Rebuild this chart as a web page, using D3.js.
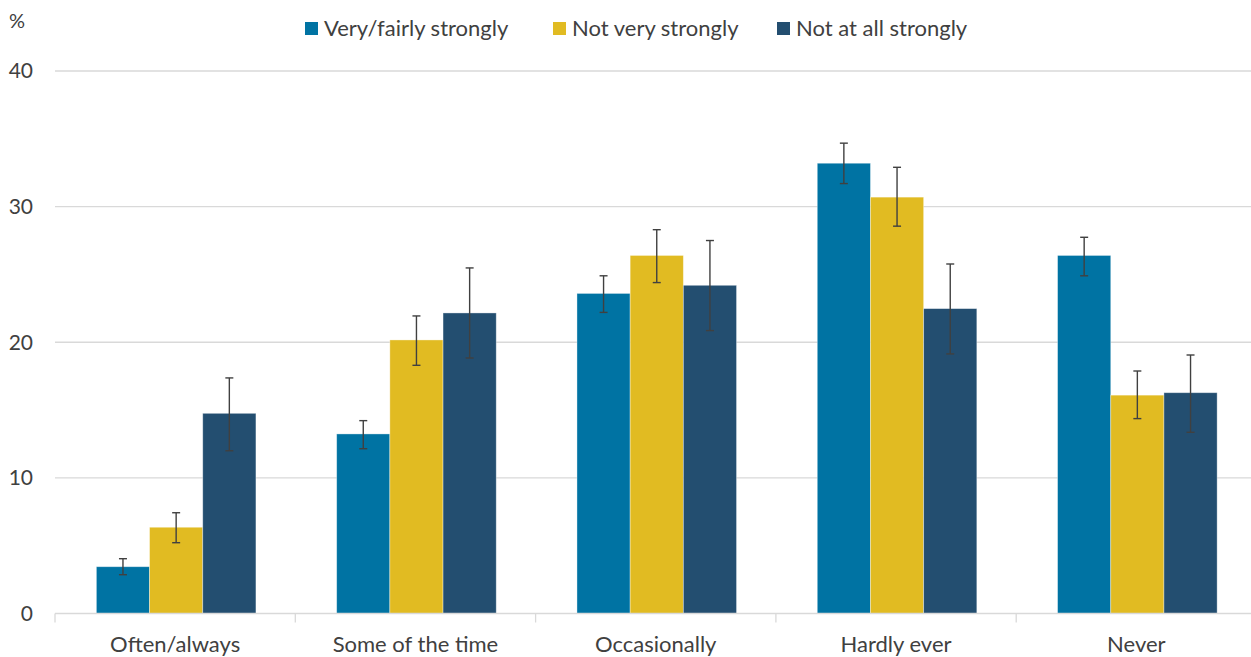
<!DOCTYPE html>
<html><head><meta charset="utf-8">
<script src="https://cdn.jsdelivr.net/npm/d3@7"></script>
<style>body{margin:0;background:#fff}svg{display:block}text{font-family:Lato,"Open Sans",sans-serif}</style>
</head><body><svg id="c" width="1251" height="657"></svg>
<script>
const categories = ["Often/always","Some of the time","Occasionally","Hardly ever","Never"];
const seriesNames = ["Very/fairly strongly","Not very strongly","Not at all strongly"];
const seriesColors = ["#0073A3","#E1BB22","#234E70"];
const valVery = [3.45, 13.24, 23.6, 33.2, 26.4];
const valNotVery = [6.36, 20.17, 26.4, 30.7, 16.1];
const valNotAll = [14.76, 22.16, 24.2, 22.48, 16.28];
const lowVery = [2.86, 12.15, 22.2, 31.7, 24.9];
const highVery = [4.04, 14.22, 24.9, 34.68, 27.74];
const lowNotVery = [5.22, 18.3, 24.4, 28.56, 14.37];
const highNotVery = [7.43, 21.94, 28.3, 32.9, 17.88];
const lowNotAll = [12.0, 18.84, 20.86, 19.14, 13.36];
const highNotAll = [17.37, 25.48, 27.5, 25.77, 19.06];
const yTicks = [0, 10, 20, 30, 40];

const values = [valVery, valNotVery, valNotAll];
const lows = [lowVery, lowNotVery, lowNotAll];
const highs = [highVery, highNotVery, highNotAll];

const svg = d3.select("#c");
const x0 = d3.scaleBand().domain(categories).range([55, 1256.5]).paddingInner(0).paddingOuter(0);
const groupFrac = 0.664;
const x1 = d3.scaleBand().domain(d3.range(3)).range([0, x0.bandwidth()*groupFrac]).padding(0);
const groupOffset = x0.bandwidth()*(1-groupFrac)/2 + 1;
const y = d3.scaleLinear().domain([0, 40]).range([613.5, 71]);

// gridlines
svg.append("g").selectAll("line").data(yTicks.filter(t=>t>0)).join("line")
  .attr("x1", 55).attr("x2", 1251)
  .attr("y1", d=>y(d)).attr("y2", d=>y(d))
  .attr("stroke", "#d9d9d9").attr("stroke-width", 1.3);

// y tick labels
svg.append("g").selectAll("text").data(yTicks).join("text")
  .attr("x", 33).attr("y", d=>y(d)).attr("dy", "0.35em")
  .attr("text-anchor", "end").attr("font-size", 21).attr("fill", "#404040")
  .text(d=>d);
svg.append("text").attr("x", 9).attr("y", 28).attr("font-size", 20).attr("fill", "#404040").text("%");

// bars
const data = [];
categories.forEach((c, i) => {
  for (let s = 0; s < 3; s++) data.push({c, s, v: values[s][i], lo: lows[s][i], hi: highs[s][i]});
});
const bx = d => x0(d.c) + groupOffset + x1(d.s);
svg.append("g").selectAll("rect").data(data).join("rect")
  .attr("x", bx).attr("width", x1.bandwidth())
  .attr("y", d=>y(d.v)).attr("height", d=>y(0)-y(d.v))
  .attr("fill", d=>seriesColors[d.s])
  .attr("stroke", "rgba(255,255,255,0.45)").attr("stroke-width", 0.8);

// x axis
const xAxis = d3.axisBottom(x0).tickSize(0).tickPadding(23);
const ax = svg.append("g").attr("transform", `translate(0,${y(0)})`).call(xAxis);
ax.select(".domain").attr("stroke", "#d9d9d9").attr("stroke-width", 1.3).attr("d", "M55,0H1251");
ax.selectAll(".tick text").attr("font-size", 22).attr("fill", "#404040").attr("font-family", "Lato, sans-serif");
// boundary ticks
svg.append("g").selectAll("line").data(categories).join("line")
  .attr("x1", d=>x0(d)).attr("x2", d=>x0(d))
  .attr("y1", y(0)).attr("y2", y(0)+9)
  .attr("stroke", "#d9d9d9").attr("stroke-width", 1.3);

// error bars
const cx = d => bx(d) + x1.bandwidth()/2;
const eb = svg.append("g").attr("stroke", "#404040").attr("stroke-width", 1.4);
eb.selectAll("line.v").data(data).join("line").attr("class","v")
  .attr("x1", cx).attr("x2", cx).attr("y1", d=>y(d.hi)).attr("y2", d=>y(d.lo));
eb.selectAll("line.t").data(data).join("line").attr("class","t")
  .attr("x1", d=>cx(d)-4).attr("x2", d=>cx(d)+4).attr("y1", d=>y(d.hi)).attr("y2", d=>y(d.hi));
eb.selectAll("line.b").data(data).join("line").attr("class","b")
  .attr("x1", d=>cx(d)-4).attr("x2", d=>cx(d)+4).attr("y1", d=>y(d.lo)).attr("y2", d=>y(d.lo));

// legend
const legX = [305, 553, 777];
const lg = svg.append("g").selectAll("g").data(seriesNames).join("g")
  .attr("transform", (d,i)=>`translate(${legX[i]},22)`);
lg.append("rect").attr("width", 13).attr("height", 13).attr("fill", (d,i)=>seriesColors[i]);
lg.append("text").attr("x", 19).attr("y", 6.5).attr("dy", "0.35em").attr("font-size", 22).attr("fill", "#404040").text(d=>d);
</script></body></html>
